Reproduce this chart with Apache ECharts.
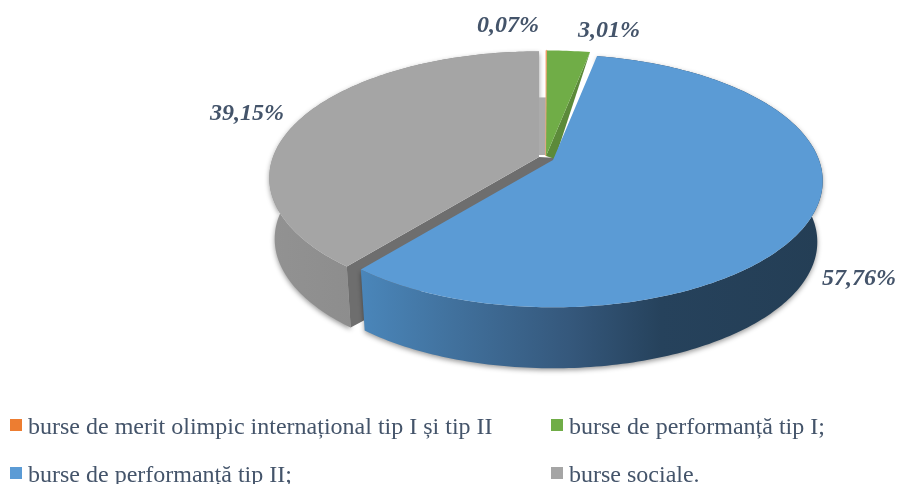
<!DOCTYPE html>
<html><head><meta charset="utf-8">
<style>html,body{margin:0;padding:0;background:#fff}#c{width:898px;height:484px}</style>
<script src="https://cdn.jsdelivr.net/npm/echarts@6/dist/echarts.min.js"></script>
</head><body><div id="c"></div>
<script>
// data
const categories = ['burse de merit olimpic internațional tip I și tip II','burse de performanță tip I;','burse de performanță tip II;','burse sociale.'];
const values = [0.07, 3.01, 57.76, 39.15];
// styles and layout
const topColors = ['#ed7d31','#70ad47','#5b9bd5','#a5a5a5'];
const labelAnchors = [[508,26],[609,31],[859,279],[247,114]];
const legendAnchors = [[10,416],[551,416],[10,464],[551,464]];
const drawOrder = [3,0,1,2];
const apexOffsets = [[0,-2],[0,-2],[7,2],[-7,-1]];
const G = {cx:546, cy:158, A:266, B:123, p:0.165, depth:61, k:0.98};

const total = values.reduce((a,b)=>a+b,0);
const spans = []; let acc = 0;
values.forEach(v=>{const s=acc/total*360; acc+=v; spans.push([s,acc/total*360]);});
const rad = d=>d*Math.PI/180;
function apexOf(i){ return [G.cx+apexOffsets[i][0], G.cy+apexOffsets[i][1]]; }
function rim(ap,deg){
  const s=Math.sin(rad(deg)), c=Math.cos(rad(deg)), w=1+G.p*c;
  return [ap[0]+G.A*s/w, ap[1]-G.B*c/w];
}
function lower(ap,pt){ return [ap[0]+(pt[0]-ap[0])*G.k, pt[1]+G.depth]; }
function arc(ap,a,b){ const out=[]; const n=Math.max(2,Math.ceil(b-a)); for(let j=0;j<=n;j++) out.push(rim(ap,a+(b-a)*j/n)); return out; }
const grad=(stops)=>new echarts.graphic.LinearGradient(0,0,1,0,stops.map(s=>({offset:s[0],color:s[1]})));
const poly=(points,style,z2)=>({type:'polygon',z2:z2||0,shape:{points},style});
const wallShadow={shadowBlur:5,shadowColor:'rgba(0,0,0,0.4)',shadowOffsetY:2};

function render(i){
  return function(){
    const ap=apexOf(i), [a,b]=spans[i], top=arc(ap,a,b), kids=[];
    const fill=topColors[i];
    if(i===3){
      const bottom=top.map(p=>lower(ap,p)).reverse();
      kids.push(poly(top.concat(bottom),Object.assign({fill:grad([[0,'#929292'],[0.5,'#8a8a8a'],[1,'#868686']])},wallShadow)));
      const corner=rim(ap,a);
      kids.push(poly([[ap[0]+18,ap[1]+1],ap,corner,lower(ap,corner),[ap[0]+18,ap[1]+G.depth]],{fill:'#6e6e6e'}));
      const r=rim(ap,b);
      kids.push(poly([[r[0],r[1]+46],[r[0]+8,r[1]+46],[ap[0]+8,ap[1]-2],[ap[0],ap[1]-2]],{fill:'#ababab'}));
    }
    if(i===2){
      const bottom=top.map(p=>lower(ap,p)).reverse();
      kids.push(poly(top.concat(bottom),Object.assign({fill:grad([[0,'#4a86ba'],[0.2,'#41719d'],[0.45,'#35587c'],[0.65,'#26425c'],[1,'#243e55'],])},wallShadow)));
    }
    if(i===1){
      const r=rim(ap,b);
      kids.push(poly([r,ap,[ap[0]+9,ap[1]+3]],{fill:'#5c8a3a'}));
    }
    const style={fill};
    if(i===0){style.stroke='#f0a878';style.lineWidth=1;}
    kids.push(poly([ap].concat(top),style));
    kids.push({type:'text',z2:10,style:{text:values[i].toFixed(2).replace('.',',')+'%',x:labelAnchors[i][0],y:labelAnchors[i][1],
      align:'center',verticalAlign:'middle',font:'italic bold 24px "Liberation Serif"',fill:'#44546a'}});
    return {type:'group',children:kids};
  };
}
const series=drawOrder.map((i,o)=>({type:'custom',name:categories[i],coordinateSystem:'none',z:o+2,silent:true,
  itemStyle:{color:topColors[i]},data:[[values[i]]],renderItem:render(i),animation:false}));
const legend=categories.map((c,i)=>({data:[{name:c,icon:'rect'}],left:legendAnchors[i][0],top:legendAnchors[i][1],orient:'horizontal',padding:0,
  itemWidth:12,itemHeight:12,selectedMode:false,formatter:n=>'{t|'+n+'}',
  textStyle:{rich:{t:{fontFamily:'Liberation Serif',fontSize:24,color:'#44546a',padding:[6,0,0,1]}}}}));
const chart=echarts.init(document.getElementById('c'),null,{renderer:'canvas'});
chart.setOption({animation:false,backgroundColor:'#fff',legend,series});
</script></body></html>
